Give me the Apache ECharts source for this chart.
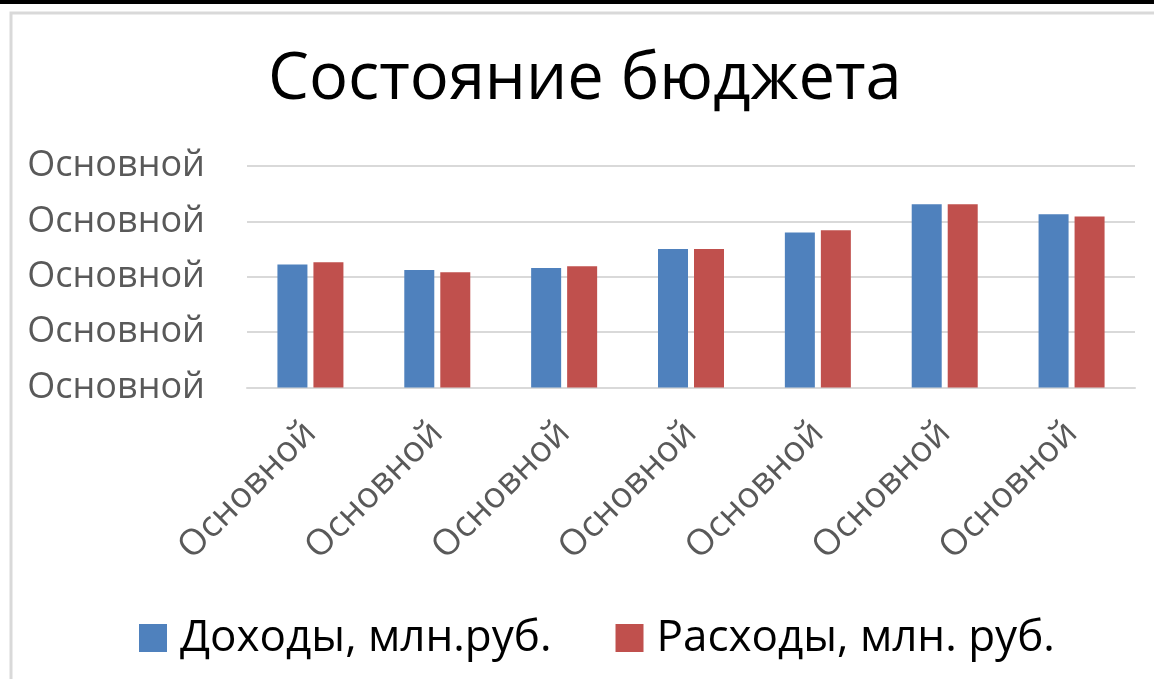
<!DOCTYPE html>
<html>
<head>
<meta charset="utf-8">
<script src="https://cdn.jsdelivr.net/npm/echarts@6/dist/echarts.min.js"></script>
<style>
html,body{margin:0;padding:0;background:#fff;}
#chart{width:1154px;height:679px;}
</style>
</head>
<body>
<div id="chart"></div>
<script>
const categories = ['Основной','Основной','Основной','Основной','Основной','Основной','Основной'];
const yTickLabels = ['Основной','Основной','Основной','Основной','Основной'];
const income = [2.22, 2.12, 2.16, 2.50, 2.80, 3.31, 3.13];
const expenses = [2.26, 2.08, 2.19, 2.50, 2.84, 3.31, 3.09];
const seriesNames = ['Доходы, млн.руб.', 'Расходы, млн. руб.'];
const titleText = 'Состояние бюджета';

const FONT = '"Open Sans", sans-serif';
const chart = echarts.init(document.getElementById('chart'));
chart.setOption({
  backgroundColor: '#fff',
  animation: false,
  graphic: [
    { type: 'rect', shape: { x: 0, y: 0, width: 1154, height: 4 }, style: { fill: '#000' } },
    { type: 'rect', shape: { x: 11, y: 13, width: 1200, height: 720 }, style: { fill: 'none', stroke: '#d9d9d9', lineWidth: 3 } }
  ],
  title: {
    text: titleText,
    left: 268,
    top: 48,
    padding: 0,
    textStyle: { fontFamily: FONT, fontSize: 65, fontWeight: 'normal', color: '#000' }
  },
  legend: {
    bottom: 19,
    left: 139,
    padding: 0,
    itemWidth: 28,
    itemHeight: 28,
    itemGap: 64,
    icon: 'rect',
    textStyle: { fontFamily: FONT, fontSize: 44, color: '#000', padding: [0, 0, 0, 8] },
    data: seriesNames
  },
  grid: { left: 247, right: 19, top: 166, bottom: 291.5, containLabel: false },
  xAxis: {
    type: 'category',
    data: categories,
    axisTick: { show: false },
    axisLine: { lineStyle: { color: '#d9d9d9', width: 2 } },
    axisLabel: { rotate: 45, margin: 40, fontFamily: FONT, fontSize: 36, color: '#595959', interval: 0 }
  },
  yAxis: {
    type: 'value',
    min: 0,
    max: 4,
    interval: 1,
    axisLine: { show: false },
    axisTick: { show: false },
    splitLine: { lineStyle: { color: '#d9d9d9', width: 2 } },
    axisLabel: {
      fontFamily: FONT, fontSize: 36, color: '#595959', margin: 42,
      formatter: function (v) { return yTickLabels[Math.round(v)]; }
    }
  },
  series: [
    { name: seriesNames[0], type: 'bar', data: income, barWidth: 30, barGap: '20%', itemStyle: { color: '#4F81BD' } },
    { name: seriesNames[1], type: 'bar', data: expenses, barWidth: 30, barGap: '20%', itemStyle: { color: '#C0504D' } }
  ]
});
</script>
</body>
</html>
